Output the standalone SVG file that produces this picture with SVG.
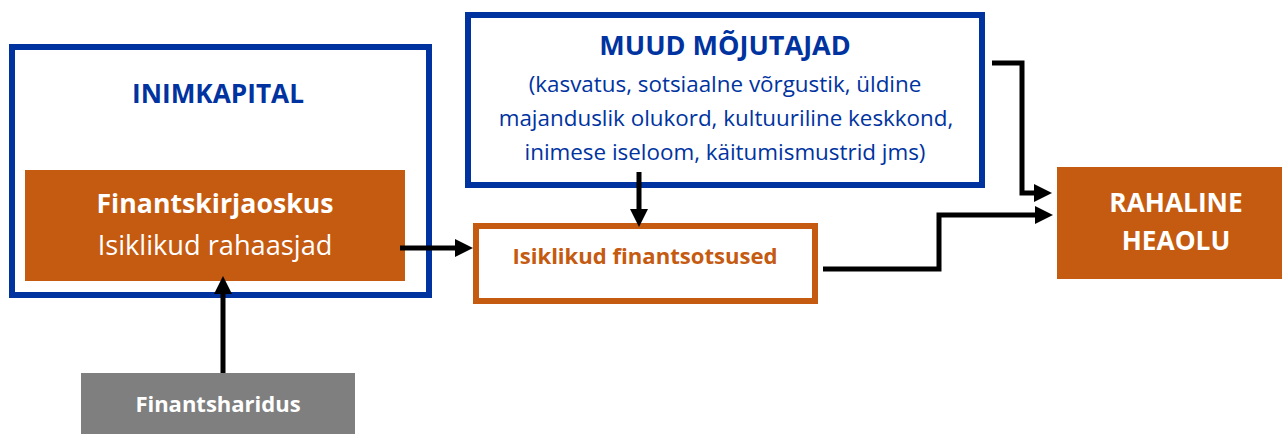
<svg xmlns="http://www.w3.org/2000/svg" width="1282" height="434" viewBox="0 0 1282 434">
<defs>
<style>
.t{font-family:"Open Sans","Noto Sans","Liberation Sans",sans-serif;text-anchor:middle}
.b{font-weight:bold}
.blue{fill:#0033A0}
.white{fill:#FFFFFF}
.orange{fill:#C55A11}
.conn{fill:none;stroke:#000;stroke-width:5;stroke-linejoin:miter;marker-end:url(#arr)}
</style>
<marker id="arr" markerUnits="userSpaceOnUse" markerWidth="18" markerHeight="18" refX="0" refY="9" orient="auto">
<path d="M0,0 L18,9 L0,18 z" fill="#000"/>
</marker>
</defs>
<rect width="1282" height="434" fill="#fff"/>
<g id="inimkapital">
<rect x="12" y="47" width="417" height="248" fill="#fff" stroke="#0033A0" stroke-width="6"/>
<text class="t b blue" x="218" y="103" font-size="26.2">INIMKAPITAL</text>
</g>
<g id="finantskirjaoskus">
<rect x="25" y="170" width="380" height="111" fill="#C55A11"/>
<text class="t b white" x="215" y="213" font-size="26.7">Finantskirjaoskus</text>
<text class="t white" x="215" y="255" font-size="27.2">Isiklikud rahaasjad</text>
</g>
<g id="muud">
<rect x="468" y="15" width="514" height="170" fill="#fff" stroke="#0033A0" stroke-width="6"/>
<text class="t b blue" x="725" y="55" font-size="27">MUUD MÕJUTAJAD</text>
<text class="t blue" x="725" y="92" font-size="22.4">(kasvatus, sotsiaalne võrgustik, üldine</text>
<text class="t blue" x="726" y="126" font-size="22.4">majanduslik olukord, kultuuriline keskkond,</text>
<text class="t blue" x="725" y="160" font-size="22.4">inimese iseloom, käitumismustrid jms)</text>
</g>
<g id="otsused">
<rect x="476" y="226" width="339" height="75" fill="#fff" stroke="#C55A11" stroke-width="6"/>
<text class="t b orange" x="645" y="264" font-size="22.1">Isiklikud finantsotsused</text>
</g>
<g id="heaolu">
<rect x="1057" y="167" width="238" height="112" fill="#C55A11"/>
<text class="t b white" x="1176" y="212" font-size="26.3">RAHALINE</text>
<text class="t b white" x="1176" y="250" font-size="26.3">HEAOLU</text>
</g>
<g id="haridus">
<rect x="81" y="373" width="274" height="70" fill="#7F7F7F"/>
<text class="t b white" x="218" y="412" font-size="22">Finantsharidus</text>
</g>
<g id="connectors">
<path class="conn" d="M223,373 V294"/>
<path class="conn" d="M400,248 H455"/>
<path class="conn" d="M639,172 V209"/>
<path class="conn" d="M823,269 H939 V215 H1035"/>
<path class="conn" d="M992,63 H1022 V193 H1034"/>
</g>
</svg>
